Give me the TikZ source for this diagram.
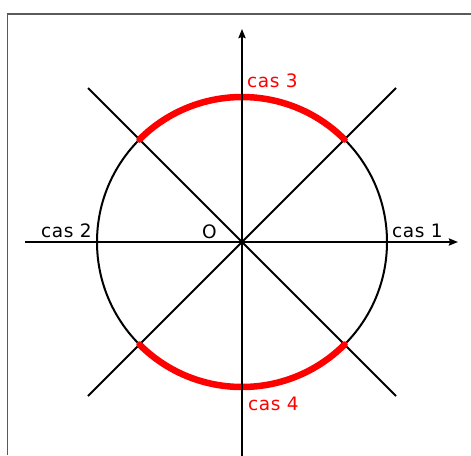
\documentclass[tikz,border=0pt]{standalone}
\usepackage{fontspec}
\setmainfont{DejaVu Sans}[LetterSpace=3]
\usetikzlibrary{arrows.meta}
\definecolor{framegray}{RGB}{90,90,90}
\begin{document}
\begin{tikzpicture}[x=1pt,y=-1pt,
  axis/.style={line width=2pt,-{Stealth[length=9pt,width=7pt,inset=1pt]}},
  diag/.style={line width=2pt},
  redarc/.style={line width=6.5pt,red},
  lbl/.style={font=\fontsize{18.5}{21}\selectfont,inner sep=0pt,anchor=base west},
  dot/.style={circle,fill=red,inner sep=0pt,minimum size=6.5pt}]
\useasboundingbox (0,0) rectangle (471,455);
\fill[white] (0,0) rectangle (471,455);
\draw[framegray,line width=1.5pt] (7.5,455) -- (7.5,14) -- (471,14);
\coordinate (O) at (242,242);
\coordinate (ul) at (88,88);
\coordinate (ur) at (396,88);
\coordinate (ll) at (88,396);
\coordinate (lr) at (396,396);
\coordinate (xl) at (25,242);
\coordinate (xr) at (458,242);
\coordinate (yb) at (242,460);
\coordinate (yt) at (242,29);
% circle
\draw[line width=2pt] (O) circle[radius=145];
% red arcs
\draw[redarc] ([shift={(-45:145)}]O) arc[start angle=-45,end angle=-135,radius=145];
\draw[redarc] ([shift={(45:145)}]O) arc[start angle=45,end angle=135,radius=145];
% lines
\draw[diag] (ul) -- (lr);
\draw[diag] (ll) -- (ur);
\draw[axis] (xl) -- (xr);
\draw[axis] (yb) -- (yt);
% dots
\node[dot] (d1) at ([shift={(102.5,-102.5)}]O) {};
\node[dot] (d2) at ([shift={(-102.5,-102.5)}]O) {};
\node[dot] (d3) at ([shift={(-102.5,102.5)}]O) {};
\node[dot] (d4) at ([shift={(102.5,102.5)}]O) {};
% labels
\node[lbl] (c1) at (392,237.5) {cas 1};
\node[lbl] (c2) at (41,237.5) {cas 2};
\node[lbl] (o) at (202,238.5) {O};
\node[lbl,red] (c3) at (247,87.5) {cas 3};
\node[lbl,red] (c4) at (248,410) {cas 4};
\end{tikzpicture}
\end{document}
